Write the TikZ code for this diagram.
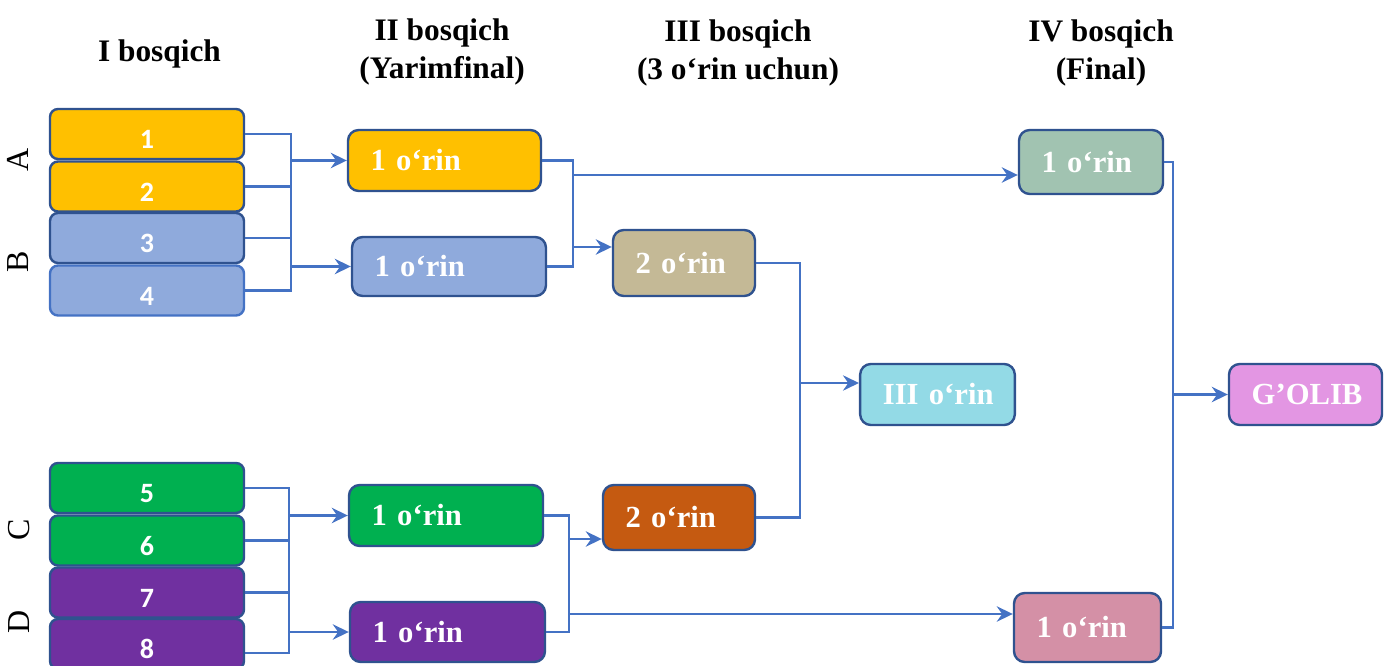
\documentclass[tikz,border=0pt]{standalone}
\usepackage{fontspec}
\setmainfont{Liberation Serif}
\newfontfamily\digitfont{Carlito}
\usetikzlibrary{arrows.meta,calc}
\definecolor{boxline}{HTML}{2F528F}
\definecolor{linkblue}{HTML}{4472C4}
\definecolor{cYellow}{HTML}{FFC000}
\definecolor{cBlue}{HTML}{8FAADC}
\definecolor{cGreen}{HTML}{00B050}
\definecolor{cPurple}{HTML}{7030A0}
\definecolor{cTan}{HTML}{C4B996}
\definecolor{cOrange}{HTML}{C55A11}
\definecolor{cCyan}{HTML}{93DAE6}
\definecolor{cSage}{HTML}{A1C3B1}
\definecolor{cPink}{HTML}{D490A6}
\definecolor{cViolet}{HTML}{E396E3}
\begin{document}
\begin{tikzpicture}[x=0.75pt,y=0.75pt,yscale=-1,xscale=1,
	entrybox/.style={draw=boxline, line width=1.8pt, rounded corners=6pt, minimum width=145.5pt, minimum height=37.5pt, inner sep=0pt, text=white, font=\digitfont\bfseries\fontsize{21}{23}\selectfont, text height=22pt, text depth=0pt},
	placebox/.style={draw=boxline, line width=1.8pt, rounded corners=8pt, inner xsep=17pt, inner ysep=0pt, align=left, text=white, font=\bfseries\fontsize{23}{27}\selectfont},
	heading/.style={inner sep=0pt, align=center, font=\bfseries\fontsize{23.5}{28.5}\selectfont},
	group/.style={inner sep=0pt, rotate=90, font=\fontsize{24}{26}\selectfont},
	link/.style={draw=linkblue, line width=1.9pt},
	feed/.style={link, -{Stealth[length=12pt,width=11.5pt,inset=4pt]}}]
		\useasboundingbox (0,0) rectangle (1384,666);
		
		% Headings
		\draw (159.5,54) node [heading] (h1) {I bosqich};
		\draw (442,51.5) node [heading] (h2) {II bosqich\\(Yarimfinal)};
		\draw (738,52.5) node [heading] (h3) {III bosqich\\(3 o‘rin uchun)};
		\draw (1101,53) node [heading] (h4) {IV bosqich\\(Final)};
		
		% Group letters
		\draw (18,160) node [group] (gA) {A};
		\draw (18,262) node [group] (gB) {B};
		\draw (19,530) node [group] (gC) {C};
		\draw (19,622) node [group] (gD) {D};
		
		% Stage I
		\draw (147,134) node [entrybox, fill=cYellow] (e1) {1};
		\draw (147,186.5) node [entrybox, fill=cYellow] (e2) {2};
		\draw (147,238) node [entrybox, fill=cBlue] (e3) {3};
		\draw (147,290.5) node [entrybox, fill=cBlue, draw=linkblue] (e4) {4};
		\draw (147,488) node [entrybox, fill=cGreen] (e5) {5};
		\draw (147,540.5) node [entrybox, fill=cGreen] (e6) {6};
		\draw (147,592.5) node [entrybox, fill=cPurple] (e7) {7};
		\draw (147,644) node [entrybox, fill=cPurple] (e8) {8};
		
		% Stage II
		\draw (444.5,160.5) node [placebox, fill=cYellow, text width=110.75pt, minimum height=45.75pt] (sA) {1 o‘rin};
		\draw (449,266.5) node [placebox, fill=cBlue, text width=111.5pt, minimum height=44.25pt] (sB) {1 o‘rin};
		\draw (446,515.5) node [placebox, fill=cGreen, text width=111.5pt, minimum height=45.75pt] (sC) {1 o‘rin};
		\draw (447.5,632) node [placebox, fill=cPurple, text width=112.25pt, minimum height=45pt] (sD) {1 o‘rin};
		
		% Stage III
		\draw (684,263) node [placebox, fill=cTan, text width=72.5pt, minimum height=49.5pt] (tTop) {2 o‘rin};
		\draw (679,517.5) node [placebox, fill=cOrange, text width=80pt, minimum height=48.75pt] (tBot) {2 o‘rin};
		\draw (937.5,394.5) node [placebox, fill=cCyan, text width=82pt, minimum height=45.75pt] (third) {\mbox{III o‘rin}};
		
		% Stage IV
		\draw (1091,162) node [placebox, fill=cSage, text width=74pt, minimum height=48pt] (fTop) {1 o‘rin};
		\draw (1087.5,627.5) node [placebox, fill=cPink, text width=76.25pt, minimum height=51.75pt] (fBot) {1 o‘rin};
		\draw (1305.5,394.5) node [placebox, fill=cViolet, text width=80.75pt, minimum height=45.75pt] (winner) {G’OLIB};
		
		% Brackets A, B
		\coordinate (kAB) at (291,160.5);
		\draw [link] (e1.east) -- (e1.east -| kAB) -- (e4.east -| kAB) -- (e4.east);
		\draw [link] (e2.east) -- (e2.east -| kAB);
		\draw [link] (e3.east) -- (e3.east -| kAB);
		\draw [feed] (sA.west -| kAB) -- (sA.west);
		\draw [feed] (sB.west -| kAB) -- (sB.west);
		
		% Brackets C, D
		\coordinate (kCD) at (289,515.5);
		\coordinate (e8out) at ($(e8.east)+(0,9)$);
		\draw [link] (e5.east) -- (e5.east -| kCD) -- (e8out -| kCD) -- (e8out);
		\draw [link] (e6.east) -- (e6.east -| kCD);
		\draw [link] (e7.east) -- (e7.east -| kCD);
		\draw [feed] (sC.west -| kCD) -- (sC.west);
		\draw [feed] (sD.west -| kCD) -- (sD.west);
		
		% Semifinal to final and third place
		\coordinate (kTop) at (573,175);
		\coordinate (kTan) at (573,247);
		\draw [link] (sA.east) -- (sA.east -| kTop) -- (sB.east -| kTop) -- (sB.east);
		\draw [feed] (kTop) -- (kTop -| fTop.west);
		\draw [feed] (kTan) -- (kTan -| tTop.west);
		
		\coordinate (kBot) at (569,539);
		\coordinate (kPink) at (569,614);
		\draw [link] (sC.east) -- (sC.east -| kBot) -- (sD.east -| kBot) -- (sD.east);
		\draw [feed] (kBot) -- (kBot -| tBot.west);
		\draw [feed] (kPink) -- (kPink -| fBot.west);
		
		% Third place
		\coordinate (kThird) at (800,383);
		\draw [link] (tTop.east) -- (tTop.east -| kThird) -- (tBot.east -| kThird) -- (tBot.east);
		\draw [feed] (kThird) -- (kThird -| third.west);
		
		% Final
		\coordinate (kFinal) at (1173,394.5);
		\draw [link] (fTop.east) -- (fTop.east -| kFinal) -- (fBot.east -| kFinal) -- (fBot.east);
		\draw [feed] (kFinal) -- (winner.west);
	\end{tikzpicture}
\end{document}
